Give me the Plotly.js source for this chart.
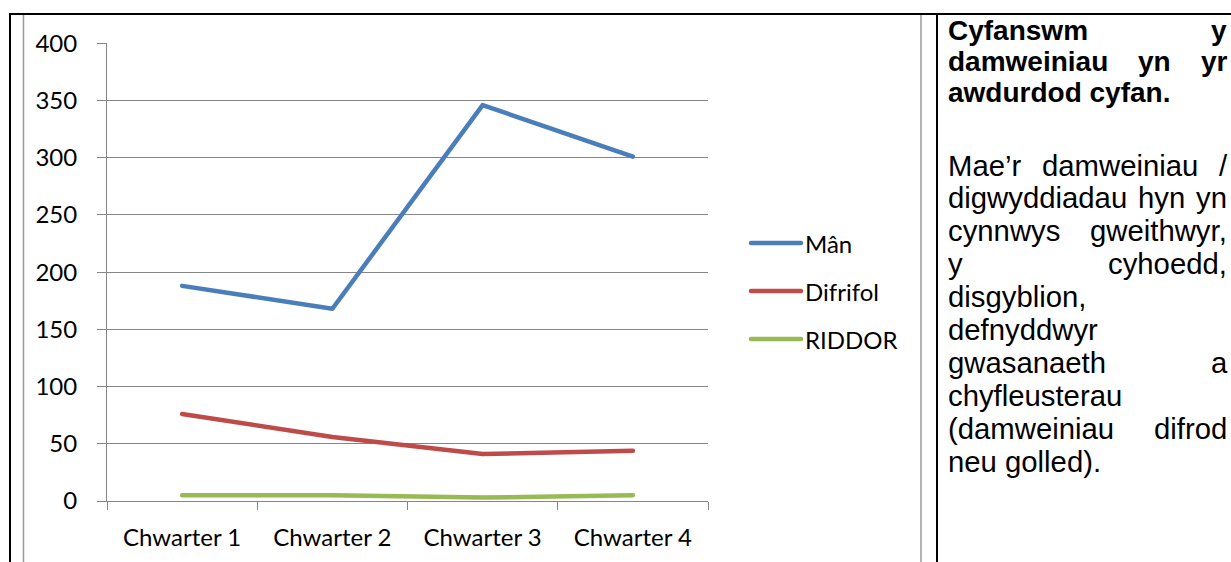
<!DOCTYPE html>
<html><head><meta charset="utf-8">
<script src="https://cdn.plot.ly/plotly-3.0.1.min.js"></script>
<style>
html,body{margin:0;padding:0;background:#fff;overflow:hidden}
#chart{width:1231px;height:562px}
.scatterlayer path.js-line{stroke-linecap:round;stroke-linejoin:round}
</style></head><body><div id="chart"></div>
<script>
// ---- data ----
const categories = ['Chwarter 1', 'Chwarter 2', 'Chwarter 3', 'Chwarter 4'];
const seriesNames = ['Mân', 'Difrifol', 'RIDDOR'];
const manValues = [188, 168, 346, 301];
const difrifolValues = [76, 56, 41, 44];
const riddorValues = [5, 5, 3, 5];
const yTickValues = [0, 50, 100, 150, 200, 250, 300, 350, 400];
const seriesColors = ['#4A7EBB', '#BE4B48', '#98B954'];
// side text (each inner list = one printed line; justified lines list their words)
const headingLines = [['Cyfanswm', 'y'], ['damweiniau', 'yn', 'yr'], ['awdurdod cyfan.']];
const bodyLines = [
  ['Mae’r', 'damweiniau', '/'],
  ['digwyddiadau', 'hyn', 'yn'],
  ['cynnwys', 'gweithwyr,'],
  ['y', 'cyhoedd,'],
  ['disgyblion,'],
  ['defnyddwyr'],
  ['gwasanaeth', 'a'],
  ['chyfleusterau'],
  ['(damweiniau', 'difrod'],
  ['neu golled).']
];

// ---- layout helpers ----
const W = 1231, H = 562;
const px = x => x / W;
const py = y => 1 - y / H;
const chartFont = 'Lato';
const chartSize = 24;
const textFamily = 'Liberation Sans';
const headingSize = 28;
const bodySize = 29.3;

const traces = [manValues, difrifolValues, riddorValues].map((vals, i) => ({
  type: 'scatter', mode: 'lines', x: categories, y: vals, name: seriesNames[i],
  line: {color: seriesColors[i], width: 4.5}, hoverinfo: 'skip', showlegend: false
}));

const shapes = [];
const annotations = [];

// table / frame lines
shapes.push({type: 'line', xref: 'paper', yref: 'paper', x0: px(9), x1: 1, y0: py(14), y1: py(14), line: {color: '#000', width: 2}});
shapes.push({type: 'line', xref: 'paper', yref: 'paper', x0: px(10), x1: px(10), y0: py(14), y1: 0, line: {color: '#000', width: 2}});
shapes.push({type: 'line', xref: 'paper', yref: 'paper', x0: px(937), x1: px(937), y0: py(14), y1: 0, line: {color: '#000', width: 2}});
shapes.push({type: 'line', xref: 'paper', yref: 'paper', x0: px(23.5), x1: px(23.5), y0: py(15), y1: 0, line: {color: '#9a9a9a', width: 1.5}});
shapes.push({type: 'line', xref: 'paper', yref: 'paper', x0: px(921), x1: px(921), y0: py(15), y1: 0, line: {color: '#9a9a9a', width: 1.5}});

// legend (manual)
const legendY = [243, 291, 339];
seriesNames.forEach((n, i) => {
  shapes.push({type: 'line', xref: 'paper', yref: 'paper', x0: px(751), x1: px(801), y0: py(legendY[i]), y1: py(legendY[i]),
    line: {color: seriesColors[i], width: 4.5}});
  annotations.push({xref: 'paper', yref: 'paper', x: px(804), y: py(legendY[i]), xanchor: 'left', yanchor: 'middle',
    text: n, showarrow: false, borderpad: 0, font: {family: chartFont, size: chartSize, color: '#000'}});
});

// justified side text
const canvas = document.createElement('canvas');
const ctx = canvas.getContext('2d');
const L = 947, R = 1226;
function addLine(words, y, bold, size, justify) {
  ctx.font = (bold ? 'bold ' : '') + size + 'px "' + textFamily + '"';
  const widths = words.map(w => ctx.measureText(w).width);
  let gap = 0;
  if (justify && words.length > 1) {
    gap = (R - L - widths.reduce((a, b) => a + b, 0)) / (words.length - 1);
  }
  let x = L;
  words.forEach((w, i) => {
    annotations.push({xref: 'paper', yref: 'paper', x: px(x), y: py(y), xanchor: 'left', yanchor: 'middle',
      text: bold ? '<b>' + w + '</b>' : w, showarrow: false, borderpad: 0,
      font: {family: textFamily, size: size, color: '#000'}});
    x += widths[i] + gap;
  });
}
const headingTop = 31, headingStep = 31;
headingLines.forEach((ws, i) => addLine(ws, headingTop + i * headingStep, true, headingSize, i < headingLines.length - 1));
const bodyTop = 165, bodyStep = 32.9;
bodyLines.forEach((ws, i) => addLine(ws, bodyTop + i * bodyStep, false, bodySize, i < bodyLines.length - 1));

const layout = {
  width: W, height: H,
  margin: {l: 0, r: 0, t: 0, b: 0},
  paper_bgcolor: '#fff', plot_bgcolor: '#fff',
  showlegend: false,
  xaxis: {
    type: 'category', domain: [px(107), px(708)], range: [-0.5, 3.5],
    showline: true, linecolor: '#868686', linewidth: 1,
    showgrid: false, zeroline: false,
    ticks: 'outside', tickson: 'boundaries', ticklen: 8, tickcolor: '#868686', tickwidth: 1,
    tickfont: {family: chartFont, size: chartSize, color: '#000'},
    ticklabelstandoff: 15
  },
  yaxis: {
    domain: [py(501), py(43.3)], range: [0, 400],
    tickvals: yTickValues, ticktext: yTickValues.map(String),
    showline: true, linecolor: '#868686', linewidth: 1,
    showgrid: true, gridcolor: '#868686', gridwidth: 1, zeroline: false,
    ticks: 'outside', ticklen: 9, tickcolor: '#868686', tickwidth: 1,
    tickfont: {family: chartFont, size: chartSize, color: '#000'},
    ticklabelstandoff: 15
  },
  shapes: shapes,
  annotations: annotations
};

Plotly.newPlot('chart', traces, layout, {staticPlot: true, displayModeBar: false}).then(() => {
  document.querySelectorAll('.shapelayer path').forEach(p => {
    if (parseFloat(p.style.strokeWidth) > 4) { p.style.strokeLinecap = 'round'; }
  });
});
</script></body></html>
